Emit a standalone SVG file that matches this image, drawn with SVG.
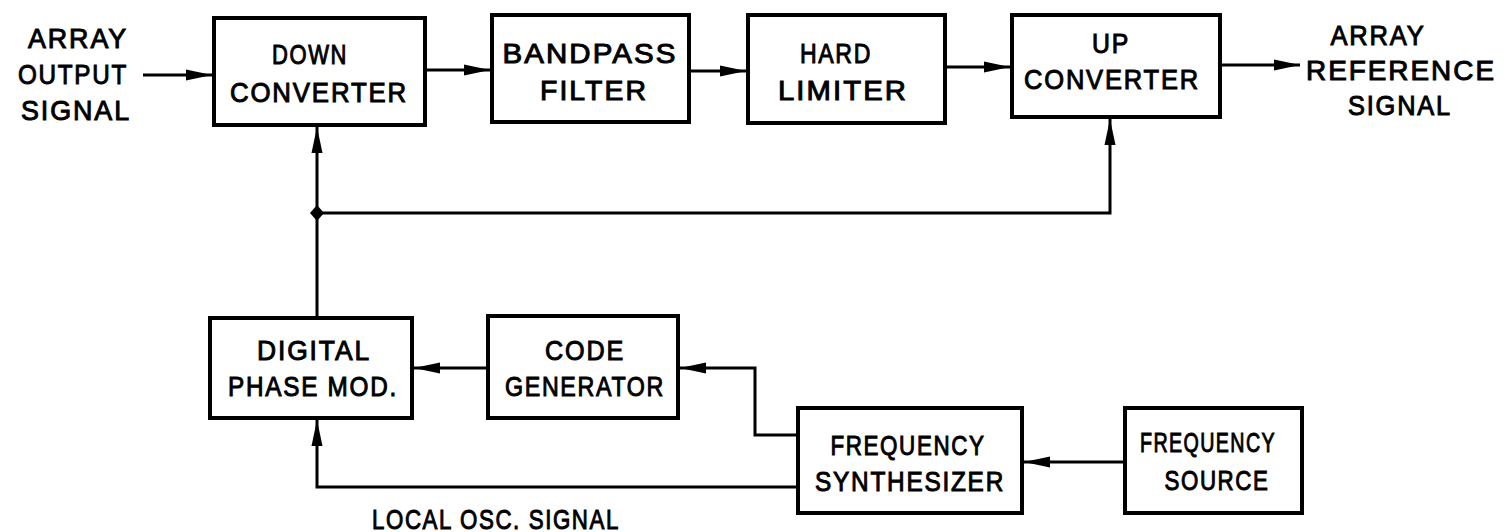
<svg xmlns="http://www.w3.org/2000/svg" width="1505" height="532" viewBox="0 0 1505 532">
<defs>
<style>
.box{fill:#fff;stroke:#000;stroke-width:4}
.ln{fill:none;stroke:#000;stroke-width:3}
.t{font-family:"Liberation Sans",Arial,sans-serif;font-weight:normal;font-size:28px;letter-spacing:2px;fill:#000;stroke:#000;stroke-width:1;text-anchor:middle}
</style>
<marker id="ah" markerUnits="userSpaceOnUse" markerWidth="28" markerHeight="16" refX="26" refY="8" orient="auto">
<path d="M0,2.5 L26,8 L0,13.5 Z" fill="#000"/>
</marker>
</defs>
<rect width="1505" height="532" fill="#fff"/>
<g id="connectors">
<line class="ln" x1="143" y1="75" x2="212" y2="75" marker-end="url(#ah)"/>
<line class="ln" x1="425" y1="70" x2="490" y2="70" marker-end="url(#ah)"/>
<line class="ln" x1="690" y1="71" x2="746" y2="71" marker-end="url(#ah)"/>
<line class="ln" x1="945" y1="67" x2="1010" y2="67" marker-end="url(#ah)"/>
<line class="ln" x1="1220" y1="65" x2="1300" y2="65" marker-end="url(#ah)"/>
<path class="ln" d="M317,318 V127" marker-end="url(#ah)"/>
<path class="ln" d="M317,213 H1110 V119" marker-end="url(#ah)"/>
<path d="M317,205 L324,213 L317,221 L310,213 Z" fill="#000"/>
<line class="ln" x1="488" y1="368" x2="414" y2="368" marker-end="url(#ah)"/>
<path class="ln" d="M798,435 H755 V368 H680" marker-end="url(#ah)"/>
<line class="ln" x1="1125" y1="462" x2="1024" y2="462" marker-end="url(#ah)"/>
<path class="ln" d="M798,487 H317 V420" marker-end="url(#ah)"/>
</g>
<g id="in-label">
<text class="t" x="78" y="48" textLength="100" lengthAdjust="spacingAndGlyphs">ARRAY</text>
<text class="t" x="73" y="84" textLength="110" lengthAdjust="spacingAndGlyphs">OUTPUT</text>
<text class="t" x="76" y="120" textLength="110" lengthAdjust="spacingAndGlyphs">SIGNAL</text>
</g>
<g id="down-converter">
<rect class="box" x="214" y="18" width="211" height="107"/>
<text class="t" x="310" y="64" textLength="76" lengthAdjust="spacingAndGlyphs">DOWN</text>
<text class="t" x="319" y="102" textLength="178" lengthAdjust="spacingAndGlyphs">CONVERTER</text>
</g>
<g id="bandpass-filter">
<rect class="box" x="492" y="15" width="197" height="107"/>
<text class="t" x="590" y="63" textLength="175" lengthAdjust="spacingAndGlyphs">BANDPASS</text>
<text class="t" x="594" y="100" textLength="108" lengthAdjust="spacingAndGlyphs">FILTER</text>
</g>
<g id="hard-limiter">
<rect class="box" x="748" y="15" width="197" height="108"/>
<text class="t" x="836" y="63" textLength="72" lengthAdjust="spacingAndGlyphs">HARD</text>
<text class="t" x="843" y="100" textLength="130" lengthAdjust="spacingAndGlyphs">LIMITER</text>
</g>
<g id="up-converter">
<rect class="box" x="1012" y="15" width="208" height="102"/>
<text class="t" x="1111" y="53" textLength="38" lengthAdjust="spacingAndGlyphs">UP</text>
<text class="t" x="1112" y="89" textLength="176" lengthAdjust="spacingAndGlyphs">CONVERTER</text>
</g>
<g id="out-label">
<text class="t" x="1378" y="45" textLength="95" lengthAdjust="spacingAndGlyphs">ARRAY</text>
<text class="t" x="1401" y="80" textLength="190" lengthAdjust="spacingAndGlyphs">REFERENCE</text>
<text class="t" x="1400" y="115" textLength="104" lengthAdjust="spacingAndGlyphs">SIGNAL</text>
</g>
<g id="digital-phase-mod">
<rect class="box" x="210" y="318" width="202" height="100"/>
<text class="t" x="314" y="360" textLength="114" lengthAdjust="spacingAndGlyphs">DIGITAL</text>
<text class="t" x="313" y="396" textLength="170" lengthAdjust="spacingAndGlyphs">PHASE MOD.</text>
</g>
<g id="code-generator">
<rect class="box" x="488" y="316" width="190" height="102"/>
<text class="t" x="585" y="360" textLength="80" lengthAdjust="spacingAndGlyphs">CODE</text>
<text class="t" x="585" y="396" textLength="160" lengthAdjust="spacingAndGlyphs">GENERATOR</text>
</g>
<g id="frequency-synthesizer">
<rect class="box" x="798" y="408" width="224" height="105"/>
<text class="t" x="908" y="455" textLength="155" lengthAdjust="spacingAndGlyphs">FREQUENCY</text>
<text class="t" x="910" y="491" textLength="190" lengthAdjust="spacingAndGlyphs">SYNTHESIZER</text>
</g>
<g id="frequency-source">
<rect class="box" x="1125" y="408" width="177" height="105"/>
<text class="t" x="1208" y="452" textLength="136" lengthAdjust="spacingAndGlyphs">FREQUENCY</text>
<text class="t" x="1217" y="490" textLength="105" lengthAdjust="spacingAndGlyphs">SOURCE</text>
</g>
<g id="lo-label">
<text class="t" x="496" y="529" textLength="248" lengthAdjust="spacingAndGlyphs">LOCAL OSC. SIGNAL</text>
</g>
</svg>
